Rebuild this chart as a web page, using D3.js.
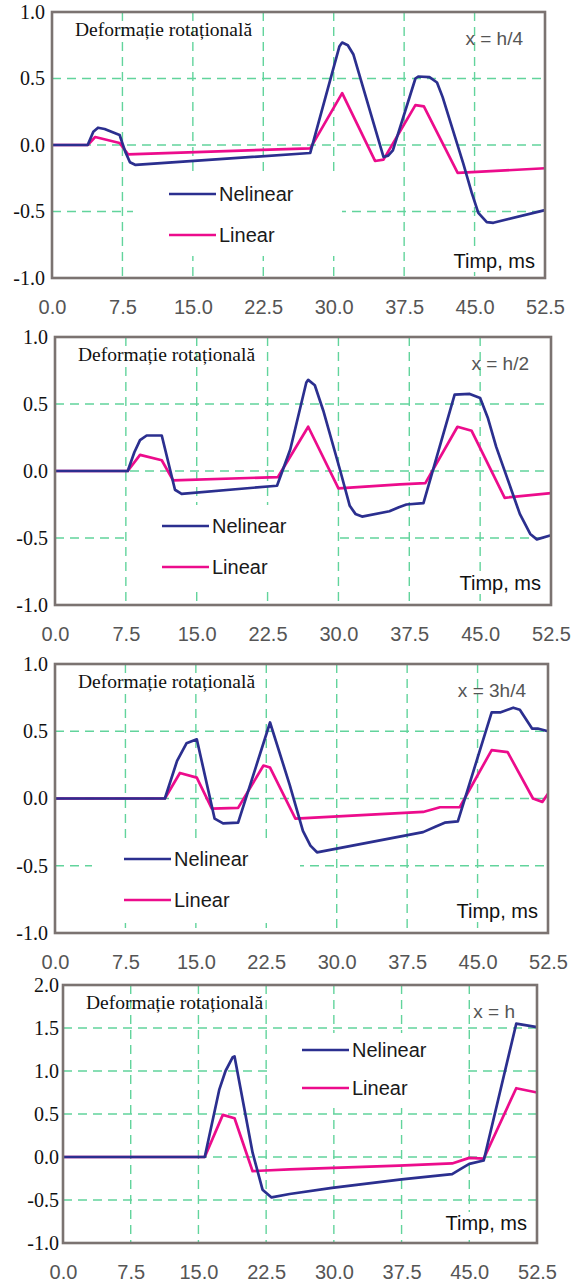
<!DOCTYPE html>
<html>
<head>
<meta charset="utf-8">
<script src="https://cdn.jsdelivr.net/npm/d3@7"></script>
<style>
    body { margin: 0; background: #fff; }
    svg { display: block; }
</style>
</head>
<body>
<div id="chart"></div>
<script>
// x axis ticks (ms) shared by all panels
const timeTicks = [0, 7.5, 15, 22.5, 30, 37.5, 45, 52.5];
const yTicksSmall = [-1, -0.5, 0, 0.5, 1];
const yTicksLarge = [-1, -0.5, 0, 0.5, 1, 1.5, 2];
const positionLabels = ["x = h/4", "x = h/2", "x = 3h/4", "x = h"];
const seriesNames = ["Nelinear", "Linear"];

// [time ms, deformation]
const nelinearH4 = [[0, 0], [3.8, 0], [4.4, 0.1], [4.9, 0.13], [5.6, 0.12], [7.2, 0.075], [7.8, -0.05], [8.3, -0.13], [8.9, -0.15],
    [27.5, -0.06], [30.6, 0.74], [30.9, 0.77], [31.5, 0.75], [32.1, 0.68], [35.3, -0.09], [35.8, -0.08], [36.3, -0.04],
    [38.7, 0.5], [39.0, 0.515], [40.2, 0.51], [41.0, 0.47], [41.6, 0.36], [43.8, -0.14], [44.7, -0.36], [45.4, -0.51],
    [46.3, -0.58], [47.0, -0.585], [52.5, -0.49]];
const linearH4 = [[0, 0], [3.8, 0], [4.6, 0.06], [7.2, 0.015], [8.1, -0.07], [27.5, -0.025], [30.9, 0.39], [34.4, -0.12],
    [35.3, -0.11], [38.7, 0.3], [39.6, 0.29], [43.2, -0.21], [52.5, -0.175]];

const nelinearH2 = [[0, 0], [7.7, 0], [8.4, 0.14], [9.0, 0.23], [9.7, 0.265], [11.3, 0.265], [12.7, -0.14], [13.4, -0.17],
    [23.5, -0.11], [24.9, 0.16], [26.6, 0.66], [26.8, 0.68], [27.5, 0.64], [28.4, 0.45], [30.2, 0], [31.2, -0.26],
    [31.8, -0.32], [32.5, -0.34], [35.4, -0.3], [36.4, -0.27], [37.2, -0.25], [39.0, -0.24], [42.3, 0.57], [43.9, 0.575],
    [45.0, 0.545], [45.8, 0.4], [46.7, 0.18], [49.2, -0.32], [50.3, -0.47], [51.0, -0.51], [52.5, -0.48]];
const linearH2 = [[0, 0], [7.7, 0], [9.0, 0.12], [11.3, 0.08], [12.5, -0.07], [23.6, -0.045], [26.8, 0.33], [30.0, -0.13],
    [36.5, -0.1], [39.2, -0.09], [42.6, 0.33], [44.1, 0.3], [47.6, -0.2], [52.5, -0.165]];

const nelinear3H4 = [[0, 0], [11.7, 0], [13.0, 0.28], [14.0, 0.41], [15.1, 0.44], [17.0, -0.15], [17.9, -0.185], [19.5, -0.18],
    [22.9, 0.565], [25.0, 0.1], [26.4, -0.24], [27.2, -0.35], [27.9, -0.4], [39.2, -0.25], [40.5, -0.21], [41.5, -0.18],
    [42.9, -0.17], [46.5, 0.64], [47.4, 0.64], [48.8, 0.675], [49.5, 0.66], [50.8, 0.52], [51.4, 0.52], [52.5, 0.5]];
const linear3H4 = [[0, 0], [11.7, 0], [13.3, 0.19], [15.1, 0.155], [16.7, -0.075], [19.5, -0.07], [22.2, 0.245], [22.9, 0.23],
    [25.6, -0.15], [39.2, -0.1], [41.0, -0.065], [43.1, -0.065], [46.5, 0.36], [48.2, 0.345], [50.9, 0], [51.9, -0.025],
    [52.5, 0.035]];

const nelinearH = [[0, 0], [15.7, 0], [17.3, 0.78], [18.0, 1.0], [18.8, 1.16], [19.0, 1.17], [21.0, 0.05], [22.1, -0.38],
    [23.1, -0.47], [25.1, -0.43], [29.8, -0.36], [37.5, -0.26], [43.1, -0.2], [44.2, -0.13], [45.0, -0.08], [46.6, -0.04],
    [50.2, 1.55], [52.5, 1.51]];
const linearH = [[0, 0], [15.7, 0], [17.7, 0.49], [19.0, 0.45], [21.0, -0.165], [21.8, -0.16], [25.1, -0.145], [37.2, -0.1],
    [43.1, -0.075], [45.0, -0.01], [46.6, -0.02], [50.2, 0.8], [52.5, 0.75]];

const blue = "#2b2f8f",
    pink = "#ec0c8c",
    gridColor = "#62d49c",
    frameColor = "#7b7371";

// frame boxes and legend placement for each panel (pixels)
const panels = [
    { box: [52, 12, 545, 278], y: [-1, 1], ticks: yTicksSmall, nel: nelinearH4, lin: linearH4,
      legend: { x: 169, y: 194, gap: 41, bg: [133, 174, 342, 256] }, timp: 10 },
    { box: [55, 337, 551, 605], y: [-1, 1], ticks: yTicksSmall, nel: nelinearH2, lin: linearH2,
      legend: { x: 162, y: 526, gap: 41, bg: [130, 505, 335, 590] }, timp: 15 },
    { box: [55, 664, 548, 933], y: [-1, 1], ticks: yTicksSmall, nel: nelinear3H4, lin: linear3H4,
      legend: { x: 124, y: 859, gap: 41, bg: [92, 838, 300, 923] }, timp: 15 },
    { box: [63, 985, 537, 1243], y: [-1, 2], ticks: yTicksLarge, nel: nelinearH, lin: linearH,
      legend: { x: 302, y: 1050, gap: 38, bg: [272, 1033, 468, 1108] }, timp: 13 }
];

// plain hyphen for negatives, like the original
const fmt = d => d.toFixed(1);

const svg = d3.select("#chart")
    .append("svg")
    .attr("width", 579)
    .attr("height", 1285);

panels.forEach(function (p, i) {
    const [x0, y0, x1, y1] = p.box;
    const x = d3.scaleLinear().domain([0, 52.5]).range([x0, x1]);
    const y = d3.scaleLinear().domain(p.y).range([y1, y0]);
    const g = svg.append("g").attr("class", "panel");

    // dashed grid, inner ticks only
    const innerX = timeTicks.slice(1, -1),
        innerY = p.ticks.slice(1, -1);
    g.selectAll(".vgrid")
        .data(innerX)
        .enter()
        .append("line")
        .attr("x1", d => x(d)).attr("x2", d => x(d))
        .attr("y1", y0).attr("y2", y1)
        .attr("stroke", gridColor)
        .attr("stroke-width", 1.4)
        .attr("stroke-dasharray", "9,6");
    g.selectAll(".hgrid")
        .data(innerY)
        .enter()
        .append("line")
        .attr("x1", x0).attr("x2", x1)
        .attr("y1", d => y(d)).attr("y2", d => y(d))
        .attr("stroke", gridColor)
        .attr("stroke-width", 1.4)
        .attr("stroke-dasharray", "9,6");

    // white patch behind the legend
    const bg = p.legend.bg;
    g.append("rect")
        .attr("x", bg[0]).attr("y", bg[1])
        .attr("width", bg[2] - bg[0]).attr("height", bg[3] - bg[1])
        .attr("fill", "#fff");

    // curves
    const line = d3.line()
        .x(d => x(d[0]))
        .y(d => y(d[1]));
    [[p.lin, pink], [p.nel, blue]].forEach(function (s) {
        g.append("path")
            .datum(s[0])
            .attr("d", line)
            .attr("fill", "none")
            .attr("stroke", s[1])
            .attr("stroke-width", 2.7)
            .attr("stroke-linejoin", "round");
    });

    // legend
    [blue, pink].forEach(function (c, k) {
        const ly = p.legend.y + k * p.legend.gap;
        g.append("line")
            .attr("x1", p.legend.x).attr("x2", p.legend.x + 47)
            .attr("y1", ly).attr("y2", ly)
            .attr("stroke", c)
            .attr("stroke-width", 2.7);
        g.append("text")
            .attr("x", p.legend.x + 50)
            .attr("y", ly + 7)
            .attr("font-family", "Liberation Sans, Arial, sans-serif")
            .attr("font-size", 20)
            .attr("fill", "#1a1a1a")
            .text(seriesNames[k]);
    });

    // frame
    g.append("rect")
        .attr("x", x0).attr("y", y0)
        .attr("width", x1 - x0).attr("height", y1 - y0)
        .attr("fill", "none")
        .attr("stroke", frameColor)
        .attr("stroke-width", 2.6);

    // axes: labels only
    const xAxis = d3.axisBottom(x)
        .tickValues(timeTicks)
        .tickFormat(fmt)
        .tickSize(0)
        .tickPadding(22);
    const xg = g.append("g")
        .attr("transform", "translate(0," + y1 + ")")
        .call(xAxis);
    xg.select(".domain").remove();
    xg.selectAll("text")
        .attr("font-family", "Liberation Sans, Arial, sans-serif")
        .attr("font-size", 20)
        .attr("fill", "#555");

    const yAxis = d3.axisLeft(y)
        .tickValues(p.ticks)
        .tickFormat(fmt)
        .tickSize(0)
        .tickPadding(i === 3 ? 4 : 7);
    const yg = g.append("g")
        .attr("transform", "translate(" + x0 + ",0)")
        .call(yAxis);
    yg.select(".domain").remove();
    yg.selectAll("text")
        .attr("font-family", "Liberation Serif, Times New Roman, serif")
        .attr("font-size", 20)
        .attr("fill", "#111");

    // panel texts
    g.append("text")
        .attr("x", x0 + 23)
        .attr("y", y0 + 24)
        .attr("font-family", "Liberation Serif, Times New Roman, serif")
        .attr("font-size", 19.5)
        .attr("fill", "#111")
        .text("Deformație rotațională");

    g.append("text")
        .attr("x", x1 - 22)
        .attr("y", y0 + 33)
        .attr("text-anchor", "end")
        .attr("font-family", "Liberation Sans, Arial, sans-serif")
        .attr("font-size", 19)
        .attr("fill", "#555")
        .text(positionLabels[i]);

    const timp = g.append("text")
        .attr("x", x1 - 10)
        .attr("y", y1 - p.timp)
        .attr("text-anchor", "end")
        .attr("font-family", "Liberation Sans, Arial, sans-serif")
        .attr("font-size", 20)
        .attr("fill", "#111")
        .text("Timp, ms");
    const tb = timp.node().getBBox();
    g.insert("rect", "text")
        .attr("x", tb.x - 2).attr("y", tb.y)
        .attr("width", tb.width + 4).attr("height", tb.height)
        .attr("fill", "#fff");
});
</script>
</body>
</html>
